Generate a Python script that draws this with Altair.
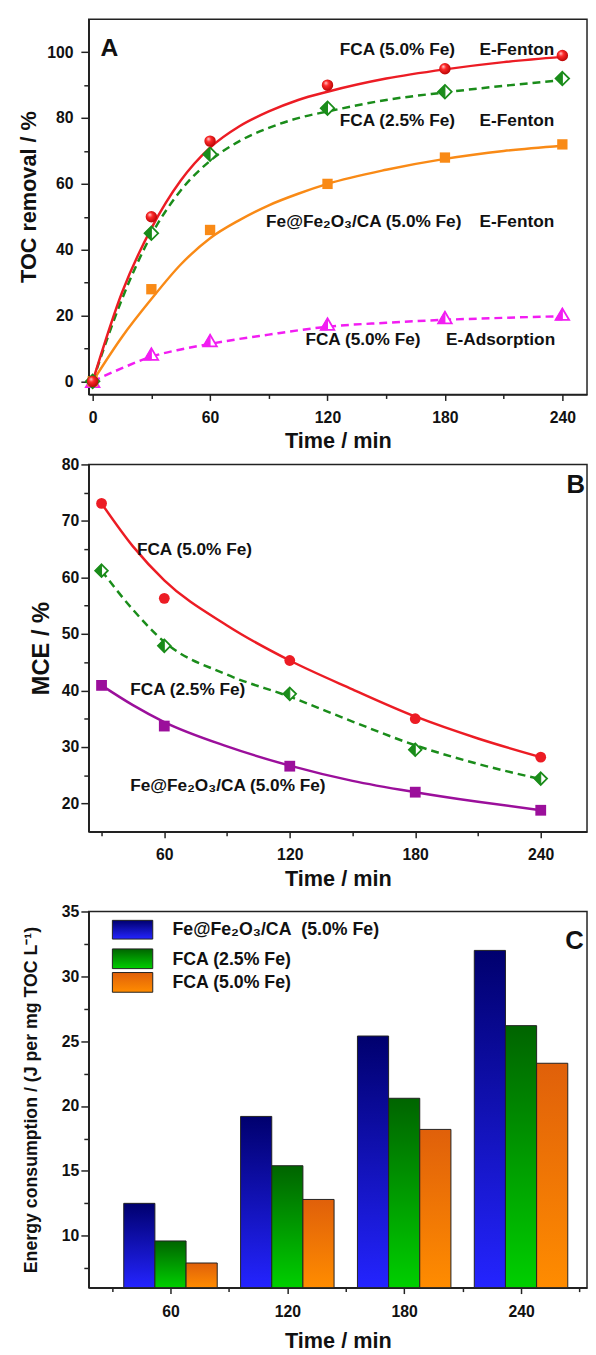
import altair as alt
import pandas as pd

FONT = "Liberation Sans, Arial, Helvetica, sans-serif"

# ---------------- Panel A : TOC removal ----------------
timeA = [0, 30, 60, 120, 180, 240]
tocFCA5 = [0, 50, 73, 90, 95, 99]
tocFCA25 = [0, 45, 69, 83, 88, 92]
tocFeO = [0, 28, 46, 60, 68, 72]
tocAds = [0, 8.3, 12.4, 17.4, 19.4, 20.4]

fitTimeA = [0, 15, 30, 45, 60, 75, 90, 105, 120, 150, 180, 210, 240]
fitFCA5 = [0, 27, 46.5, 61, 71, 77.5, 82, 85.5, 88, 92, 94.8, 97, 98.6]
fitFCA25 = [0, 25, 44.5, 58, 67, 73, 77, 80, 82, 85.5, 87.8, 89.8, 91.5]
fitFeO = [0, 13.5, 25, 35.5, 43.5, 49, 53.5, 57, 60, 64.3, 67.6, 70, 71.6]
fitAds = [0, 4, 7.5, 9.7, 11.4, 12.9, 14.2, 15.5, 16.6, 17.8, 18.7, 19.3, 19.8]

labelsA_text = ["FCA (5.0% Fe)", "E-Fenton", "FCA (2.5% Fe)", "E-Fenton",
                "Fe@Fe\u2082O\u2083/CA (5.0% Fe)", "E-Fenton", "FCA (5.0% Fe)", "E-Adsorption"]
labelsA_t = [126.3, 197.7, 126.3, 197.7, 88.6, 197.7, 108.7, 180.6]
labelsA_v = [100.8, 100.8, 79.1, 79.1, 48.5, 48.5, 12.6, 12.6]

# ---------------- Panel B : MCE ----------------
timeB = [30, 60, 120, 180, 240]
mceFCA5 = [73.1, 56.3, 45.3, 35.0, 28.2]
mceFCA25 = [61.2, 47.9, 39.4, 29.5, 24.4]
mceFeO = [40.9, 33.7, 26.6, 22.0, 18.8]

fitTimeB = [30, 45, 60, 90, 120, 150, 180, 210, 240]
fitB5 = [73.1, 65.5, 59.5, 51.5, 45.3, 40.2, 35.4, 31.5, 28.2]
fitB25 = [61.2, 54.3, 48.6, 42.8, 38.9, 34.5, 30.3, 27.0, 24.3]
fitBFeO = [40.9, 37.4, 34.4, 30.1, 26.7, 24.0, 22.0, 20.3, 18.8]

labelsB_text = ["FCA (5.0% Fe)", "FCA (2.5% Fe)", "Fe@Fe\u2082O\u2083/CA (5.0% Fe)"]
labelsB_t = [46.9, 43.7, 43.7]
labelsB_v = [64.9, 40.0, 23.1]

# ---------------- Panel C : energy consumption ----------------
timeC = [60, 120, 180, 240]
energyFeO = [12.5, 19.2, 25.4, 32.0]
energyFCA25 = [9.6, 15.4, 20.6, 26.2]
energyFCA5 = [7.9, 12.8, 18.2, 23.3]
seriesC = ["Fe@Fe\u2082O\u2083/CA\u00a0 (5.0% Fe)", "FCA (2.5% Fe)", "FCA (5.0% Fe)"]
C_BASE = 6

# ---------------- styles ----------------
RED = "#ec1c24"
GREEN = "#1a8c1a"
ORANGE = "#f98a16"
MAGENTA = "#f21df2"
PURPLE = "#9b0f9b"
INK = "#111111"

W = 506
DIAMOND = "M0,-1L1,0L0,1L-1,0Z"
DIAMOND_L = "M0,-1L0,1L-1,0Z"
TRI = "M0,-0.85L1,0.85L-1,0.85Z"
TRI_L = "M0,-0.85L0,0.85L-1,0.85Z"


def lin_grad(top, bottom):
    return {"gradient": "linear", "x1": 0, "y1": 0, "x2": 0, "y2": 1,
            "stops": [{"offset": 0, "color": top}, {"offset": 1, "color": bottom}]}


SPHERE = {"gradient": "radial", "x1": 0.35, "y1": 0.3, "r1": 0,
          "x2": 0.45, "y2": 0.45, "r2": 0.62,
          "stops": [{"offset": 0, "color": "#ffd6d6"},
                    {"offset": 0.35, "color": "#ff2a2a"},
                    {"offset": 1, "color": "#b00000"}]}

GRAD_BLUE = lin_grad("#00006e", "#2424ff")
GRAD_GREEN = lin_grad("#006400", "#00cf00")
GRAD_ORANGE = lin_grad("#e0600a", "#ff8c00")


def dfp(t, v):
    return pd.DataFrame({"t": t, "v": v})


def axis_layers(df, xs, ys, xmaj, xmin, ymaj, ymin):
    base = alt.Chart(df).mark_point(opacity=0)
    major = base.encode(x=alt.X("t:Q", scale=xs, axis=xmaj),
                        y=alt.Y("v:Q", scale=ys, axis=ymaj))
    minor = base.encode(x=alt.X("t:Q", scale=xs, axis=xmin),
                        y=alt.Y("v:Q", scale=ys, axis=ymin))
    return [major, minor]


def curve(t, v, xs, ys, color, dash=None):
    kw = dict(color=color, strokeWidth=2.5, interpolate="monotone")
    if dash:
        kw["strokeDash"] = dash
    return alt.Chart(dfp(t, v)).mark_line(**kw).encode(
        x=alt.X("t:Q", scale=xs, axis=None), y=alt.Y("v:Q", scale=ys, axis=None))


def pts(t, v, xs, ys, **kw):
    return alt.Chart(dfp(t, v)).mark_point(**kw).encode(
        x=alt.X("t:Q", scale=xs, axis=None), y=alt.Y("v:Q", scale=ys, axis=None))


def half_marker(t, v, xs, ys, full, half, color, size):
    return [pts(t, v, xs, ys, shape=full, size=size, filled=True, fill="white",
                stroke=color, strokeWidth=1.8, opacity=1),
            pts(t, v, xs, ys, shape=half, size=size, filled=True, fill=color,
                stroke=color, strokeWidth=1.0, opacity=1)]


def labels(texts, ts, vs, xs, ys, size=17.5):
    df = pd.DataFrame({"t": ts, "v": vs, "s": texts})
    return alt.Chart(df).mark_text(align="left", baseline="middle", font=FONT,
                                   fontSize=size, fontWeight="bold", color=INK).encode(
        x=alt.X("t:Q", scale=xs, axis=None), y=alt.Y("v:Q", scale=ys, axis=None), text="s:N")


def letter(ch, px, py, align="left", size=25):
    return alt.Chart(pd.DataFrame({"s": [ch]})).mark_text(
        align=align, baseline="middle", font=FONT, fontSize=size, fontWeight="bold",
        color=INK).encode(x=alt.value(px), y=alt.value(py), text="s:N")


def xaxis(values, tick, lp=9, tp=6, title="Time / min", major=True):
    if major:
        return alt.Axis(values=values, tickSize=tick, labelPadding=lp, title=title,
                        titlePadding=tp, titleFontSize=22, orient="bottom", grid=False)
    return alt.Axis(values=values, tickSize=tick, labels=False, domain=False,
                    title=None, orient="bottom", grid=False)


def yaxis(values, tick, lp=4, tp=6, title=None, tfs=22, major=True, titleY=None):
    if major:
        kw = dict(values=values, tickSize=tick, labelPadding=lp, title=title,
                  titlePadding=tp, titleFontSize=tfs, orient="left", grid=False)
        if titleY is not None:
            kw["titleY"] = titleY
        return alt.Axis(**kw)
    return alt.Axis(values=values, tickSize=tick, labels=False, domain=False,
                    title=None, orient="left", grid=False)


# ---------------- Panel A ----------------
xA = alt.Scale(domain=[-2, 252.6], nice=False, zero=False)
yA = alt.Scale(domain=[-4, 110], nice=False, zero=False)

layersA = axis_layers(
    dfp(timeA, tocFCA5), xA, yA,
    xaxis([0, 60, 120, 180, 240], 6, lp=9, tp=6),
    xaxis([30, 90, 150, 210], 4, major=False),
    yaxis([0, 20, 40, 60, 80, 100], 8, lp=8, tp=6, title="TOC removal / %", tfs=22, titleY=180),
    yaxis([10, 30, 50, 70, 90], 5, major=False))
layersA += [
    curve(fitTimeA, fitAds, xA, yA, MAGENTA, [8, 5]),
    curve(fitTimeA, fitFeO, xA, yA, ORANGE),
    curve(fitTimeA, fitFCA25, xA, yA, GREEN, [8, 5]),
    curve(fitTimeA, fitFCA5, xA, yA, RED),
]
layersA += half_marker(timeA, tocAds, xA, yA, TRI, TRI_L, MAGENTA, 190)
layersA += [pts(timeA, tocFeO, xA, yA, shape="square", size=110, filled=True,
                fill=ORANGE, opacity=1)]
layersA += half_marker(timeA, tocFCA25, xA, yA, DIAMOND, DIAMOND_L, GREEN, 190)
layersA += [pts(timeA, tocFCA5, xA, yA, shape="circle", size=135, filled=True,
                fill=SPHERE, opacity=1, strokeWidth=0)]
layersA += [labels(labelsA_text, labelsA_t, labelsA_v, xA, yA),
            letter("A", 12, 29, size=25)]

chartA = alt.layer(*layersA).properties(width=W, height=381).resolve_axis(
    x="independent", y="independent")

# ---------------- Panel B ----------------
xB = alt.Scale(domain=[23.88, 262.13], nice=False, zero=False)
yB = alt.Scale(domain=[15, 80], nice=False, zero=False)

layersB = axis_layers(
    dfp(timeB, mceFCA5), xB, yB,
    xaxis([60, 120, 180, 240], 6, lp=9, tp=7),
    xaxis([30, 90, 150, 210], 4, major=False),
    yaxis([20, 30, 40, 50, 60, 70, 80], 8, lp=2, tp=8, title="MCE / %", tfs=24),
    yaxis([25, 35, 45, 55, 65, 75], 5, major=False))
layersB += [
    curve(fitTimeB, fitBFeO, xB, yB, PURPLE),
    curve(fitTimeB, fitB25, xB, yB, GREEN, [8, 5]),
    curve(fitTimeB, fitB5, xB, yB, RED),
    pts(timeB, mceFeO, xB, yB, shape="square", size=120, filled=True, fill=PURPLE, opacity=1),
]
layersB += half_marker(timeB, mceFCA25, xB, yB, DIAMOND, DIAMOND_L, GREEN, 165)
layersB += [pts(timeB, mceFCA5, xB, yB, shape="circle", size=120, filled=True,
                fill=RED, opacity=1),
            labels(labelsB_text, labelsB_t, labelsB_v, xB, yB),
            letter("B", 504, 21, align="right", size=26)]

chartB = alt.layer(*layersB).properties(width=W, height=373).resolve_axis(
    x="independent", y="independent")

# ---------------- Panel C ----------------
xC = alt.Scale(domain=[18.03, 273.88], nice=False, zero=False)
yC = alt.Scale(domain=[C_BASE, 35], nice=False, zero=False)

layersC = axis_layers(
    dfp(timeC, energyFeO), xC, yC,
    xaxis([60, 120, 180, 240], 6, lp=10, tp=12),
    xaxis([30, 90, 150, 210, 270], 4, major=False),
    yaxis([10, 15, 20, 25, 30, 35], 8, lp=2, tp=21,
          title="Energy consumption / (J per mg TOC L\u207b\u00b9)", tfs=18),
    yaxis([7.5, 12.5, 17.5, 22.5, 27.5, 32.5], 5, major=False))


def bars(values, offset, grad):
    return alt.Chart(dfp(timeC, values)).transform_calculate(
        x0=f"datum.t + ({offset}) - 8", x1=f"datum.t + ({offset}) + 8"
    ).mark_bar(fill=grad, stroke="#222", strokeWidth=1, opacity=1).encode(
        x=alt.X("x0:Q", scale=xC, axis=None), x2="x1:Q",
        y=alt.Y("v:Q", scale=yC, axis=None), y2=alt.datum(C_BASE))


layersC += [bars(energyFeO, -16, GRAD_BLUE),
            bars(energyFCA25, 0, GRAD_GREEN),
            bars(energyFCA5, 16, GRAD_ORANGE)]

# legend (pixel layout inside panel C)
legend_y = [(9, 28), (38, 58), (62, 82)]
legend_text_y = [19, 49, 73]
for (y0, y1), ty, grad, name in zip(legend_y, legend_text_y,
                                   [GRAD_BLUE, GRAD_GREEN, GRAD_ORANGE], seriesC):
    one = alt.Chart(pd.DataFrame({"s": [name]}))
    layersC.append(one.mark_rect(fill=grad, stroke="#222", strokeWidth=1).encode(
        x=alt.value(24), x2=alt.value(65), y=alt.value(y0), y2=alt.value(y1)))
    layersC.append(one.mark_text(align="left", baseline="middle", font=FONT, fontSize=18,
                                 fontWeight="bold", color=INK).encode(
        x=alt.value(85), y=alt.value(ty), text="s:N"))
layersC.append(letter("C", 484, 30, size=26))

chartC = alt.layer(*layersC).properties(width=W, height=382).resolve_axis(
    x="independent", y="independent")

top = alt.vconcat(chartA, chartB, spacing=3)
chart = alt.vconcat(top, chartC, spacing=12).properties(
    padding={"left": 9, "top": 0, "right": 0, "bottom": 0},
    background="white",
).configure_view(stroke="#222", strokeWidth=1.5).configure_axis(
    labelFont=FONT, labelFontSize=16, labelFontWeight="bold", labelColor=INK,
    titleFont=FONT, titleFontWeight="bold", titleColor=INK,
    tickColor="#222", tickWidth=1.5, domainColor="#222", domainWidth=1.5, grid=False,
)

chart.save("out.html", embed_options={"renderer": "svg", "actions": False})
